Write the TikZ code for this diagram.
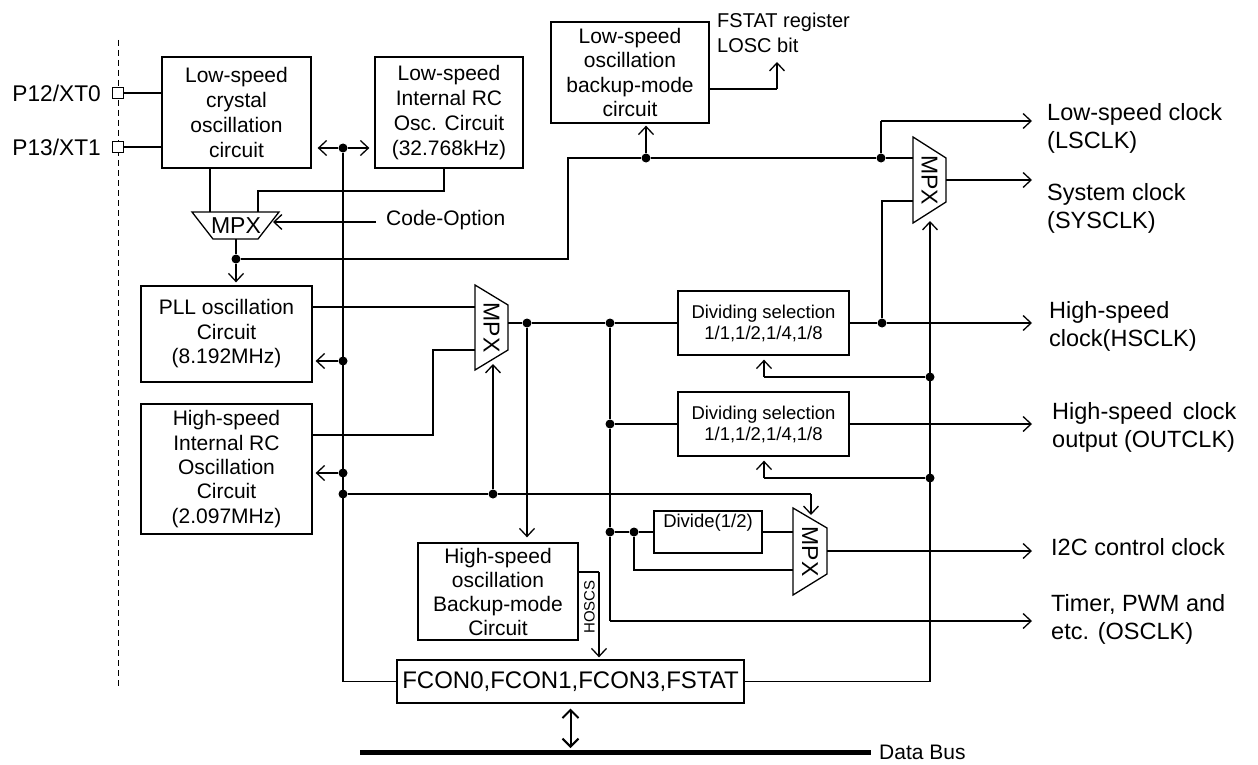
\documentclass[tikz,border=0pt]{standalone}
\usepackage{fontspec}
\setmainfont{Liberation Sans}
\usetikzlibrary{arrows.meta,calc}
\tikzset{
 wire/.style={line width=1.3pt},
 arr/.style={wire,-{Straight Barb[length=8pt,width=15pt]}},
 darr/.style={wire,{Straight Barb[length=8pt,width=15pt]}-{Straight Barb[length=8pt,width=15pt]}},
 dot/.style={circle,fill,inner sep=0pt,minimum size=9pt},
 blk/.style={draw,line width=1.3pt,align=center,inner sep=0pt,font=\fontsize{21}{25}\selectfont},
 lbl/.style={align=left,inner sep=0pt,font=\fontsize{23.5}{28}\selectfont,anchor=west},
 mpxt/.style={inner sep=0pt,font=\fontsize{23}{23}\selectfont},
 pin/.style={draw,fill=white,line width=1.1pt,minimum size=11pt,inner sep=0pt},
 mpxbox/.style={wire,line join=miter},
}
\begin{document}
\begin{tikzpicture}[x=1pt,y=-1pt]
\useasboundingbox (0,0) rectangle (1258,765);

% dashed chip boundary and pins
\coordinate (dtop) at (118,40);
\coordinate (dbot) at (118,686);
\draw[line width=1pt,dash pattern=on 6pt off 4pt] (dtop) -- (dbot);

% boxes
\node[blk,minimum width=149pt,minimum height=111pt] (xtal) at (236.5,112.5) {Low-speed\\crystal\\oscillation\\circuit};
\node[blk,minimum width=148pt,minimum height=111pt] (lrc) at (449,112.5) {Low-speed\\Internal RC\\Osc. Circuit\\(32.768kHz)};
\node[blk,font=\fontsize{21}{24.5}\selectfont,minimum width=158pt,minimum height=101pt] (lbk) at (630,72.5) {Low-speed\\oscillation\\backup-mode\\circuit};
\node[blk,font=\fontsize{21}{24.5}\selectfont,minimum width=171pt,minimum height=96pt] (pll) at (226.5,334) {PLL oscillation\\Circuit\\(8.192MHz)};
\node[blk,font=\fontsize{21}{24.3}\selectfont,minimum width=171pt,minimum height=130pt] (hrc) at (226.5,469) {High-speed\\Internal RC\\Oscillation\\Circuit\\(2.097MHz)};
\node[blk,font=\fontsize{18.5}{21}\selectfont,minimum width=171pt,minimum height=64pt] (div1) at (763.5,323) {Dividing selection\\1/1,1/2,1/4,1/8};
\node[blk,font=\fontsize{18.5}{21}\selectfont,minimum width=171pt,minimum height=64pt] (div2) at (763.5,424) {Dividing selection\\1/1,1/2,1/4,1/8};
\node[blk,minimum width=108pt,minimum height=42pt] (div12) at (708,532) {};
\node[inner sep=0pt,font=\fontsize{18.5}{21}\selectfont] (div12t) at (708,523) {Divide(1/2)};
\node[blk,font=\fontsize{21}{24}\selectfont,minimum width=160pt,minimum height=97pt] (hbk) at (498,591.5) {High-speed\\oscillation\\Backup-mode\\Circuit};
\node[blk,font=\fontsize{24}{24}\selectfont,minimum width=347pt,minimum height=43pt] (fcon) at (570.5,681.5) {FCON0,FCON1,FCON3,FSTAT};

% pins
\node[pin] (p0) at (118,93) {};
\node[pin] (p1) at (118,147) {};
\node[anchor=east,inner sep=0pt,font=\fontsize{22.7}{26}\selectfont] (p0l) at (101,93) {P12/XT0};
\node[anchor=east,inner sep=0pt,font=\fontsize{22.7}{26}\selectfont] (p1l) at (101,147) {P13/XT1};
\draw[wire] (p0) -- (p0 -| xtal.west);
\draw[wire] (p1) -- (p1 -| xtal.west);

% left vertical bus
\node[dot] (j1) at (343,148) {};
\draw[arr,shorten >=6pt] (j1) -- (j1 -| xtal.east);
\draw[arr,shorten >=5pt] (j1) -- (j1 -| lrc.west);
\coordinate (jb) at (343,681.5);
\draw[wire] (j1) -- (jb) -- (fcon.west);
\node[dot] (j2) at (343,361) {};
\node[dot] (j3) at (343,473) {};
\node[dot] (j4) at (343,494) {};
\draw[arr,shorten >=3pt] (j2) -- (j2 -| pll.east);
\draw[arr,shorten >=3pt] (j3) -- (j3 -| hrc.east);

% MPX1 (low-speed select)
\coordinate (m1a) at (192,212); \coordinate (m1b) at (279,212);
\coordinate (m1c) at (258,239); \coordinate (m1d) at (213,239);
\draw[mpxbox] (m1a) -- (m1b) -- (m1c) -- (m1d) -- cycle;
\node[mpxt] (m1) at (236,226) {MPX};
\coordinate (m1x1) at (210,212);
\coordinate (m1x2) at (258,212);
\draw[wire] (m1x1 |- xtal.south) -- (m1x1);
\coordinate (lrcout) at (444,191);
\draw[wire] (lrcout |- lrc.south) -- (lrcout) -- (lrcout -| m1x2) -- (m1x2);
\node[anchor=west,inner sep=0pt,font=\fontsize{21}{25}\selectfont] (code) at (386,220) {Code-Option};
\coordinate (cotip) at (273,222);
\draw[arr,shorten <=10pt] (code.west |- cotip) -- (cotip);
\coordinate (m1o) at (236,239);
\node[dot] (j5) at (236,259) {};
\draw[wire] (m1o) -- (j5);
\draw[arr,shorten >=3pt] (j5) -- (j5 |- pll.north);

% low-speed clock route
\coordinate (c1) at (568,259);
\coordinate (c2) at (568,158);
\node[dot] (j6) at (646,158) {};
\node[dot] (j7) at (881,158) {};
\coordinate (m3i1) at (913,158);
\draw[wire] (j5) -- (c1) -- (c2) -- (j6) -- (j7) -- (m3i1);
\draw[arr,shorten >=2pt] (j6) -- (j6 |- lbk.south);
\coordinate (c3) at (777,89);
\coordinate (fstip) at (777,62);
\draw[wire] (c3 -| lbk.east) -- (c3);
\draw[arr] (c3) -- (fstip);
\node[anchor=west,align=left,inner sep=0pt,font=\fontsize{20}{25}\selectfont] (fstat) at (717,32.5) {FSTAT register\\LOSC bit};

% MPX3 (system clock)
\coordinate (m3a) at (913,137); \coordinate (m3b) at (946,158);
\coordinate (m3c2) at (946,202); \coordinate (m3d) at (913,223);
\draw[mpxbox] (m3a) -- (m3b) -- (m3c2) -- (m3d) -- cycle;
\node[mpxt,rotate=-90] (m3) at (929.5,180) {MPX};
\coordinate (c4) at (881,121);
\coordinate (o1) at (1032,121);
\draw[wire] (j7) -- (c4);
\draw[arr] (c4) -- (o1);
\node[lbl] (l1) at (1047,128.5) {Low-speed clock\\(LSCLK)};
\coordinate (m3o) at (946,180);
\coordinate (o2) at (1032,180);
\draw[arr] (m3o) -- (o2);
\node[lbl] (l2) at (1047,208) {System clock\\(SYSCLK)};
\node[dot] (j8) at (882,323) {};
\coordinate (m3i2) at (913,201);
\draw[wire] (j8) -- (j8 |- m3i2) -- (m3i2);
\coordinate (m3ctl) at (930,221);
\coordinate (c5) at (930,681.5);
\draw[arr] (c5) -- (m3ctl);
\draw[wire] (c5) -- (fcon.east);
\node[dot] (j9) at (930,377) {};
\node[dot] (j10) at (930,478) {};
\coordinate (d1c) at (764,377);
\coordinate (d2c) at (764,478);
\draw[wire] (j9) -- (d1c);
\draw[arr,shorten >=4pt] (d1c) -- (d1c |- div1.south);
\draw[wire] (j10) -- (d2c);
\draw[arr,shorten >=4pt] (d2c) -- (d2c |- div2.south);

% MPX2 (high-speed select)
\coordinate (m2a) at (475,285); \coordinate (m2b) at (508,305);
\coordinate (m2c2) at (508,350); \coordinate (m2d) at (475,370);
\draw[mpxbox] (m2a) -- (m2b) -- (m2c2) -- (m2d) -- cycle;
\node[mpxt,rotate=-90] (m2) at (491.5,327.5) {MPX};
\coordinate (m2i1) at (475,307);
\coordinate (m2i2) at (475,350);
\draw[wire] (m2i1 -| pll.east) -- (m2i1);
\coordinate (c6) at (433,435);
\draw[wire] (c6 -| hrc.east) -- (c6) |- (m2i2);
\node[dot] (j11) at (493,494) {};
\coordinate (m2ctl) at (493,364);
\draw[arr] (j11) -- (m2ctl);
\coordinate (c8) at (811,494);
\coordinate (m4ctl) at (811,515);
\draw[wire] (j4) -- (j11) -- (c8);
\draw[arr] (c8) -- (m4ctl);
\coordinate (m2o) at (508,323);
\node[dot] (j12) at (527,323) {};
\node[dot] (j13) at (610,323) {};
\draw[wire] (m2o) -- (j12) -- (j13) -- (div1.west);
\draw[arr,shorten >=5pt] (j12) -- (j12 |- hbk.north);
\coordinate (o3) at (1032,323);
\draw[wire] (div1.east) -- (j8);
\draw[arr] (j8) -- (o3);
\node[lbl] (l3) at (1049,326) {High-speed\\clock(HSCLK)};

% branch to dividers, I2C and timers
\node[dot] (j14) at (610,424) {};
\node[dot] (j15) at (610,532) {};
\coordinate (c9) at (610,621);
\coordinate (o6) at (1032,621);
\draw[wire] (j13) -- (j14) -- (j15) -- (c9);
\draw[arr] (c9) -- (o6);
\draw[wire] (j14) -- (div2.west);
\coordinate (o4) at (1032,424);
\draw[arr] (div2.east) -- (o4);
\node[lbl] (l4) at (1052,427.5) {High-speed\hspace{0.45em}clock\\output (OUTCLK)};
\node[dot] (j16) at (634,532) {};
\draw[wire] (j15) -- (j16) -- (div12.west);
\coordinate (m4i1) at (793,532);
\coordinate (m4i2) at (793,570);
\draw[wire] (div12.east) -- (m4i1);
\coordinate (c10) at (634,570);
\draw[wire] (j16) -- (c10) -- (m4i2);

% MPX4 (I2C)
\coordinate (m4a) at (793,508); \coordinate (m4b) at (827,528);
\coordinate (m4c2) at (827,574); \coordinate (m4d) at (793,595);
\draw[mpxbox] (m4a) -- (m4b) -- (m4c2) -- (m4d) -- cycle;
\node[mpxt,rotate=-90] (m4) at (810,551.5) {MPX};
\coordinate (m4o) at (827,551);
\coordinate (o5) at (1032,551);
\draw[arr] (m4o) -- (o5);
\node[lbl] (l5) at (1051,547) {I2C control clock};
\node[lbl] (l6) at (1051,619) {Timer, PWM and\\etc. (OSCLK)};

% HOSCS
\coordinate (h1) at (578,572);
\coordinate (h2) at (599,572);
\draw[wire] (h1) -- (h2);
\draw[arr,shorten >=2pt] (h2) -- (h2 |- fcon.north);
\node[rotate=90,inner sep=0pt,font=\fontsize{15}{15}\selectfont] (hoscs) at (589.5,607) {HOSCS};

% data bus
\coordinate (b1) at (360,752);
\coordinate (b2) at (871,752);
\draw[line width=5pt] (b1) -- (b2);
\node[anchor=west,inner sep=0pt,font=\fontsize{21}{25}\selectfont] (dbus) at (879,752) {Data Bus};
\draw[line width=2pt,{Straight Barb[length=8pt,width=16pt]}-{Straight Barb[length=8pt,width=16pt]},shorten <=5pt,shorten >=4pt] (fcon.south) -- (fcon.south |- b1);
\end{tikzpicture}
\end{document}
